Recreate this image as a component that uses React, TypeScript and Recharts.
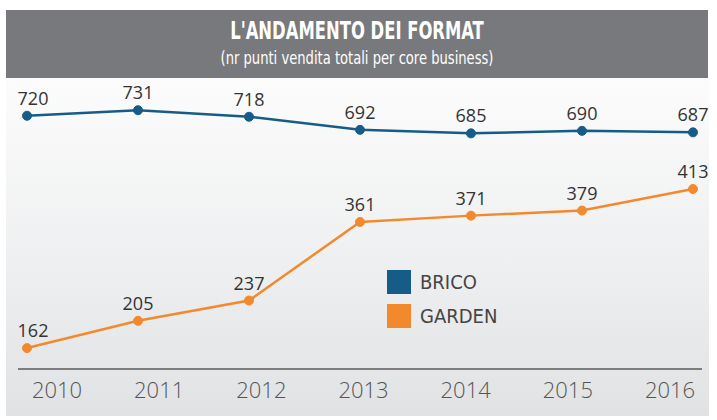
import React from 'react';
import { LineChart, Line, XAxis, YAxis, LabelList } from 'recharts';

const years = ['2010', '2011', '2012', '2013', '2014', '2015', '2016'];
const brico = [720, 731, 718, 692, 685, 690, 687];
const garden = [162, 205, 237, 361, 371, 379, 413];

const BRICO_COLOR = '#175c88';
const GARDEN_COLOR = '#f28a2d';

const series = [
    { key: 'brico', name: 'BRICO', color: BRICO_COLOR },
    { key: 'garden', name: 'GARDEN', color: GARDEN_COLOR },
];

const data = years.map((year, i) => ({ year, brico: brico[i], garden: garden[i] }));

const renderValue = (props: any) => {
    const { x, y, value, index } = props;
    return (
        <text
            x={x + (index === 0 ? 6 : 0)}
            y={y - 11}
            textAnchor="middle"
            fill="#333"
            fontSize={18}
            fontFamily="'Open Sans', sans-serif"
        >
            {value}
        </text>
    );
};

const condensed = "'DejaVu Sans Condensed', 'Liberation Sans Narrow', sans-serif";

export default function App() {
    return (
        <div style={{ position: 'absolute', left: 0, top: 0, width: 717, height: 420, background: '#fff' }}>
            {/* title bar */}
            <div
                style={{
                    position: 'absolute',
                    left: 6,
                    top: 10,
                    width: 702,
                    height: 68,
                    background: '#78797c',
                    color: '#fff',
                    textAlign: 'center',
                    fontFamily: condensed,
                }}
            >
                <div style={{ fontWeight: 'bold', fontSize: 24, lineHeight: '26px', marginTop: 8, transform: 'scaleX(0.76)' }}>
                    L'ANDAMENTO DEI FORMAT
                </div>
                <div style={{ fontSize: 18, lineHeight: '20px', marginTop: 4, transform: 'scaleX(0.81)' }}>
                    (nr punti vendita totali per core business)
                </div>
            </div>
            {/* chart panel */}
            <div
                style={{
                    position: 'absolute',
                    left: 6,
                    top: 78,
                    width: 703,
                    height: 338,
                    background: 'linear-gradient(to bottom, #fcfcfc 0%, #eeeff0 55%, #e1e2e4 100%)',
                }}
            />
            <div style={{ position: 'absolute', left: 0, top: 0 }}>
                <LineChart width={717} height={420} data={data} margin={{ top: 80, right: 15, bottom: 0, left: 18 }}>
                    <XAxis xAxisId="pts" dataKey="year" hide padding={{ left: 9, right: 9 }} />
                    <XAxis
                        xAxisId="lbl"
                        dataKey="year"
                        height={51}
                        padding={{ left: 39, right: 32 }}
                        axisLine={{ stroke: '#5a5a5c', strokeWidth: 1.5 }}
                        tickLine={false}
                        tickSize={0}
                        tickMargin={13}
                        tick={{ fill: '#555', fontSize: 22, fontFamily: "'Open Sans', sans-serif", fontWeight: 300 }}
                    />
                    <YAxis yAxisId="brico" hide domain={[217, 791]} />
                    <YAxis yAxisId="garden" hide domain={[129, 585]} />
                    {series.map((s) => (
                        <Line
                            key={s.key}
                            xAxisId="pts"
                            yAxisId={s.key}
                            dataKey={s.key}
                            name={s.name}
                            stroke={s.color}
                            strokeWidth={2.5}
                            dot={{ r: 4.5, fill: s.color, stroke: s.color, strokeWidth: 1 }}
                            isAnimationActive={false}
                        >
                            <LabelList dataKey={s.key} content={renderValue} />
                        </Line>
                    ))}
                </LineChart>
            </div>
            {/* legend */}
            <div
                style={{
                    position: 'absolute',
                    left: 387,
                    top: 270,
                    fontFamily: condensed,
                    fontSize: 20,
                    color: '#444',
                }}
            >
                {series.map((s) => (
                    <div key={s.key} style={{ display: 'flex', alignItems: 'center', height: 24, marginBottom: 10 }}>
                        <span style={{ width: 24, height: 24, background: s.color, display: 'inline-block', marginRight: 9 }} />
                        <span>{s.name}</span>
                    </div>
                ))}
            </div>
        </div>
    );
}
